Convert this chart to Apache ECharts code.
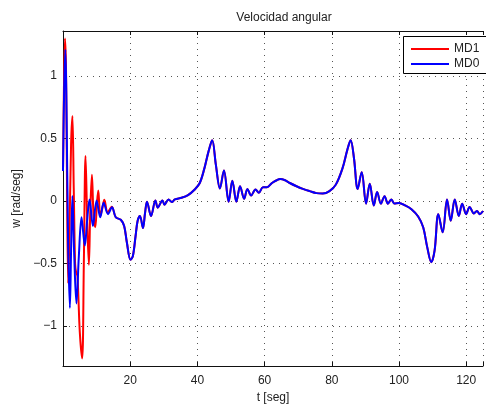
<!DOCTYPE html>
<html>
<head>
<meta charset="utf-8">
<script src="https://cdn.jsdelivr.net/npm/echarts@6/dist/echarts.min.js"></script>
<style>
html,body{margin:0;padding:0;background:#fff;}
#c{width:486px;height:409px;}
</style>
</head>
<body>
<div id="c"></div>
<script>
// Early transient of MD1 (red)
const tMD1 = [0, 0.3, 0.6, 0.9, 1.2, 1.55, 1.9, 2.4, 2.8, 3.2, 3.6, 3.9, 4.3, 5.0, 5.7, 6.2, 6.7, 7.2, 7.7, 8.1, 8.6, 9.1, 9.6, 10.1, 10.5, 11.1, 11.7, 12.3, 13.3, 14.5, 15.7];
const wMD1 = [0.24, 0.95, 1.30, 1.05, 0.1, -0.66, -0.3, 0.45, 0.68, 0.1, -0.5, -0.57, -0.6, -1.05, -1.26, -0.5, 0.36, -0.15, -0.51, -0.1, 0.21, -0.12, -0.21, -0.02, 0.085, -0.12, -0.06, 0.01, -0.09, -0.045, -0.13];
// Early transient of MD0 (blue)
const tMD0 = [0, 0.35, 0.7, 1.0, 1.5, 2.05, 2.4, 2.8, 3.3, 4.0, 4.7, 5.5, 6.0, 6.5, 7.2, 7.9, 8.9, 10.0, 11.1, 12.1, 13.4, 14.6, 15.7];
const wMD0 = [0.24, 0.9, 1.21, 0.85, -0.3, -0.855, -0.4, 0.04, -0.4, -0.82, -0.45, -0.13, -0.25, -0.355, -0.15, 0.013, -0.2, 0.005, -0.13, -0.013, -0.105, -0.05, -0.13];
// Common response after the transient (both series overlap)
const tTail = [17.2, 18.2, 19.0, 20.1, 20.8, 21.6, 22.2, 22.9, 23.8, 24.4, 25.0, 26.2, 27.5, 28.2, 29.6, 30.2, 31.4, 32.4, 33.3, 35.3, 37.2, 39.2, 40.7, 42.1, 43.3, 44.4, 45.5, 46.7, 47.9, 49.3, 50.4, 51.6, 52.7, 53.9, 54.9, 56.0, 57.3, 58.3, 59.5, 60.7, 62.2, 63.6, 64.6, 66.1, 67.5, 69.5, 71.4, 73.4, 75.4, 77.3, 79.3, 81.2, 83.2, 84.6, 85.6, 86.6, 87.7, 88.9, 90.2, 91.3, 92.5, 93.5, 94.6, 95.7, 96.7, 97.7, 98.6, 100, 101.8, 103.7, 105.7, 107.2, 108.4, 109.6, 110.6, 111.7, 113.0, 114.3, 115.4, 116.6, 117.8, 118.8, 120, 121, 122.3, 123.2, 124, 125];
const wTail = [-0.15, -0.2, -0.33, -0.47, -0.44, -0.28, -0.16, -0.12, -0.215, -0.1, -0.005, -0.12, 0.005, -0.053, 0.005, -0.03, 0.013, -0.008, 0.013, 0.026, 0.047, 0.092, 0.144, 0.263, 0.395, 0.486, 0.289, 0.1, 0.245, -0.005, 0.163, -0.005, 0.118, 0.018, 0.097, 0.044, 0.092, 0.066, 0.11, 0.11, 0.144, 0.166, 0.176, 0.166, 0.144, 0.118, 0.097, 0.079, 0.063, 0.06, 0.079, 0.131, 0.263, 0.407, 0.486, 0.342, 0.097, 0.231, -0.021, 0.139, -0.035, 0.073, -0.021, 0.039, -0.021, 0.013, -0.019, -0.015, -0.035, -0.066, -0.124, -0.21, -0.369, -0.49, -0.395, -0.105, -0.25, 0.013, -0.158, 0.013, -0.12, -0.021, -0.105, -0.047, -0.1, -0.079, -0.105, -0.08];
const seriesNames = ['MD1', 'MD0'];
const xTicks = [20, 40, 60, 80, 100, 120];
const yTicks = [-1, -0.5, 0, 0.5, 1];

function pairs(t, w) { return t.map((v, i) => [v, w[i]]); }
const dataMD1 = pairs(tMD1.concat(tTail), wMD1.concat(wTail));
const dataMD0 = pairs(tMD0.concat(tTail), wMD0.concat(wTail));

const font = 'Liberation Sans, Arial, Helvetica, sans-serif';
const grid = { left: 63, top: 31, width: 426, height: 340 };
const dotted = { color: '#555', width: 1, type: [1, 5] };
const axisLn = { show: true, onZero: false, lineStyle: { color: '#111', width: 1 } };

const chart = echarts.init(document.getElementById('c'), null, { renderer: 'canvas' });
chart.setOption({
  animation: false,
  backgroundColor: '#fff',
  title: {
    text: 'Velocidad angular', left: 279, top: 7, textAlign: 'center',
    textStyle: { fontFamily: font, fontSize: 12, fontWeight: 'normal', color: '#222' }
  },
  grid: grid,
  graphic: [{
    type: 'rect', z: 3, silent: true,
    shape: { x: 403.5, y: 36.5, width: 100, height: 37 },
    style: { fill: '#fff', stroke: '#000', lineWidth: 1 }
  }],
  legend: {
    data: seriesNames, orient: 'vertical', left: 403, top: 38,
    icon: 'path://M0,0H38V2H0Z', z: 5,
    itemWidth: 38, itemHeight: 2, itemGap: 3, padding: [5, 4, 5, 8],
    textStyle: { fontFamily: font, fontSize: 12, color: '#222' }
  },
  xAxis: [{
    type: 'value', min: 0, max: 125, interval: 20,
    name: 't [seg]', nameLocation: 'middle', nameGap: 26,
    nameTextStyle: { fontFamily: font, fontSize: 12, color: '#222' },
    axisLine: axisLn,
    axisTick: { inside: true, length: 4, lineStyle: { color: '#111' } },
    axisLabel: {
      fontFamily: font, fontSize: 12, color: '#222', margin: 9,
      formatter: v => xTicks.indexOf(v) >= 0 ? String(v) : ''
    },
    splitLine: { show: true, lineStyle: dotted }
  }, {
    type: 'value', min: 0, max: 125, interval: 20, position: 'top',
    axisLine: axisLn,
    axisTick: { inside: true, length: 4, lineStyle: { color: '#111' } },
    axisLabel: { show: false }, splitLine: { show: false }
  }],
  yAxis: {
    type: 'value', min: -1.32, max: 1.36, splitNumber: 5,
    name: 'w [rad/seg]', nameLocation: 'middle', nameGap: 40, nameRotate: 90,
    nameTextStyle: { fontFamily: font, fontSize: 12, color: '#222' },
    axisLine: axisLn,
    axisTick: { show: true, inside: true, length: 4, lineStyle: { color: '#111' } },
    axisLabel: {
      fontFamily: font, fontSize: 12, color: '#222', margin: 6,
      showMinLabel: false, showMaxLabel: false,
      formatter: v => {
        const k = yTicks.findIndex(t => Math.abs(t - v) < 1e-9);
        if (k < 0) return '';
        return String(yTicks[k]).replace('-', '\u2212');
      }
    },
    splitLine: { show: true, lineStyle: dotted }
  },
  series: [
    { name: 'MD1', type: 'line', data: dataMD1, symbol: 'none', smooth: 0.35,
      lineStyle: { color: '#ff0000', width: 2 }, itemStyle: { color: '#ff0000' } },
    { name: 'MD0', type: 'line', data: dataMD0, symbol: 'none', smooth: 0.35,
      lineStyle: { color: '#0000ff', width: 2 }, itemStyle: { color: '#0000ff' } }
  ]
});
</script>
</body>
</html>
